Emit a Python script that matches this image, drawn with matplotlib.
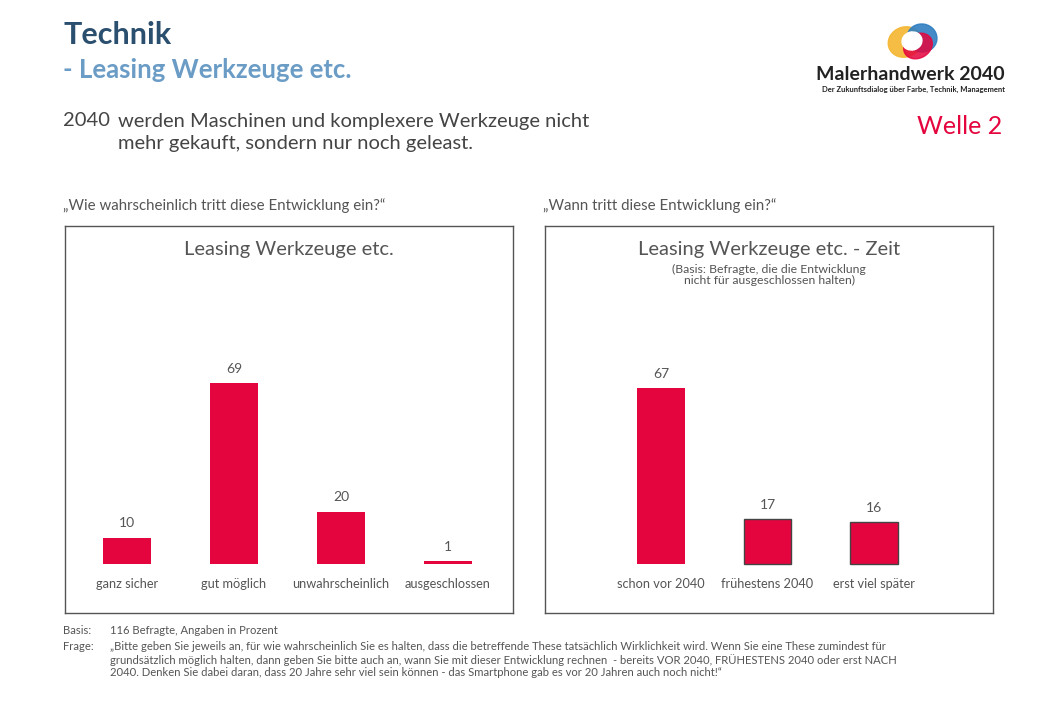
import matplotlib.pyplot as plt
from matplotlib.patches import Ellipse
from matplotlib.transforms import blended_transform_factory

plt.rcParams['font.family'] = ['Lato', 'DejaVu Sans']

# data
cats_left = ['ganz sicher', 'gut möglich', 'unwahrscheinlich', 'ausgeschlossen']
vals_left = [10, 69, 20, 1]
cats_right = ['schon vor 2040', 'frühestens 2040', 'erst viel später']
vals_right = [67, 17, 16]
edges_right = ['none', '#444444', '#444444']

red = '#e5053e'
grey = '#555555'
W, H = 1040, 720

fig = plt.figure(figsize=(10.4, 7.2), dpi=100)


def box(x0, y0, x1, y1):
    # pixel box (top-left origin) -> figure fraction
    return [x0 / W, 1 - y1 / H, (x1 - x0) / W, (y1 - y0) / H]


def fx(x):
    return x / W


def fy(y):
    return 1 - y / H


# header
fig.text(fx(63), fy(35), 'Technik', fontsize=22, fontweight='bold',
         color='#2b4f6e', va='center')
fig.text(fx(63), fy(70), '- Leasing Werkzeuge etc.', fontsize=18.5,
         fontweight='bold', color='#6a9cc6', va='center')
fig.text(fx(63), fy(121), '2040', fontsize=14.5, color='#444444', va='center')
fig.text(fx(118), fy(121), 'werden Maschinen und komplexere Werkzeuge nicht',
         fontsize=14.5, color='#444444', va='center')
fig.text(fx(118), fy(143), 'mehr gekauft, sondern nur noch geleast.',
         fontsize=14.5, color='#444444', va='center')
fig.text(fx(1002), fy(127), 'Welle 2', fontsize=18, color=red,
         va='center', ha='right')

# logo
lax = fig.add_axes(box(880, 20, 945, 62))
lax.set_xlim(0, 65)
lax.set_ylim(0, 42)
lax.axis('off')
lax.add_patch(Ellipse((25, 20), 34, 30, angle=20, color='#f5b631', alpha=0.9))
lax.add_patch(Ellipse((42, 24), 30, 28, angle=-10, color='#2f7fc1', alpha=0.9))
lax.add_patch(Ellipse((38, 16), 30, 24, angle=30, color='#e5053e', alpha=0.85))
lax.add_patch(Ellipse((32, 21), 20, 18, angle=15, color='white'))
fig.text(fx(1005), fy(75), 'Malerhandwerk 2040', fontsize=14,
         fontweight='bold', color='#222222', ha='right', va='center')
fig.text(fx(1005), fy(89), 'Der Zukunftsdialog über Farbe, Technik, Management',
         fontsize=5.5, fontweight='bold', color='#222222', ha='right',
         va='center')

# questions
fig.text(fx(63), fy(206), '\u201eWie wahrscheinlich tritt diese Entwicklung ein?\u201c',
         fontsize=10.8, color=grey, va='center')
fig.text(fx(543), fy(206), '\u201eWann tritt diese Entwicklung ein?\u201c',
         fontsize=10.8, color=grey, va='center')

ppu = 2.62  # pixels per percent
base = 564


def panel(ax, cats, vals, xlim, edges, title, sub=None):
    x0, x1 = xlim
    ax.set_xlim(x0, x1)
    ax.set_ylim(-(613 - base) / ppu, (base - 226) / ppu)
    for s in ax.spines.values():
        s.set_color(grey)
        s.set_linewidth(1)
    ax.set_xticks([])
    ax.set_yticks([])
    xs = list(range(len(cats)))
    ax.bar(xs, vals, width=0.45, color=red, edgecolor=edges, linewidth=1)
    tr = blended_transform_factory(ax.transData, ax.transAxes)
    for x, v, c in zip(xs, vals, cats):
        ax.annotate(str(v), (x, v), xytext=(0, 6), textcoords='offset points',
                    ha='center', va='bottom', fontsize=10, color=grey)
        ax.text(x, (613 - 584) / 387, c, transform=tr, ha='center',
                va='center', fontsize=9.2, color=grey)
    ax.text(0.5, 1 - 24 / 387, title, transform=ax.transAxes, ha='center',
            va='center', fontsize=14.5, color=grey)
    if sub:
        ax.text(0.5, 1 - 49 / 387, sub, transform=ax.transAxes, ha='center',
                va='center', fontsize=8.8, color=grey, linespacing=1.0)


axl = fig.add_axes(box(65, 226, 513, 613))
panel(axl, cats_left, vals_left, ((65 - 127) / 107, (513 - 127) / 107),
      'none', 'Leasing Werkzeuge etc.')
axr = fig.add_axes(box(545, 226, 993, 613))
panel(axr, cats_right, vals_right, ((545 - 661) / 106.5, (993 - 661) / 106.5),
      edges_right, 'Leasing Werkzeuge etc. - Zeit',
      '(Basis: Befragte, die die Entwicklung\nnicht für ausgeschlossen halten)')

# footer
fs = 8.1
fig.text(fx(63), fy(630), 'Basis:', fontsize=fs, color=grey, va='center')
fig.text(fx(110), fy(630), '116 Befragte, Angaben in Prozent', fontsize=fs,
         color=grey, va='center')
fig.text(fx(63), fy(647), 'Frage:', fontsize=fs, color=grey, va='center')
frage = [
    '\u201eBitte geben Sie jeweils an, für wie wahrscheinlich Sie es halten, dass die betreffende These tatsächlich Wirklichkeit wird. Wenn Sie eine These zumindest für',
    'grundsätzlich möglich halten, dann geben Sie bitte auch an, wann Sie mit dieser Entwicklung rechnen  - bereits VOR 2040, FRÜHESTENS 2040 oder erst NACH',
    '2040. Denken Sie dabei daran, dass 20 Jahre sehr viel sein können - das Smartphone gab es vor 20 Jahren auch noch nicht!\u201c',
]
for i, line in enumerate(frage):
    fig.text(fx(110), fy(647 + 13 * i), line, fontsize=fs, color=grey,
             va='center')

fig.savefig('out.png', dpi=100, facecolor='white')
